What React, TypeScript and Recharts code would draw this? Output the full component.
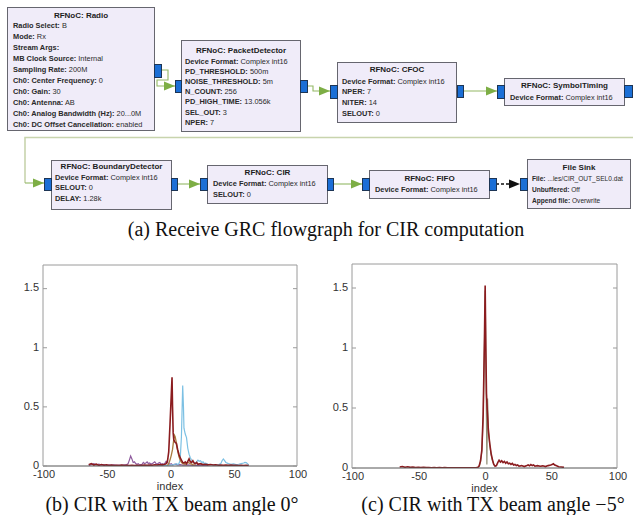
import React from 'react';
import { LineChart, Line, XAxis, YAxis } from 'recharts';

// ---------- flowgraph (top half) ----------
type Row = [string, string];

const radioRows: Row[] = [
  ['Radio Select:', 'B'],
  ['Mode:', 'Rx'],
  ['Stream Args:', ''],
  ['MB Clock Source:', 'Internal'],
  ['Sampling Rate:', '200M'],
  ['Ch0: Center Frequency:', '0'],
  ['Ch0: Gain:', '30'],
  ['Ch0: Antenna:', 'AB'],
  ['Ch0: Analog Bandwidth (Hz):', '20...0M'],
  ['Ch0: DC Offset Cancellation:', 'enabled'],
];
const detectorRows: Row[] = [
  ['Device Format:', 'Complex int16'],
  ['PD_THRESHOLD:', '500m'],
  ['NOISE_THRESHOLD:', '5m'],
  ['N_COUNT:', '256'],
  ['PD_HIGH_TIME:', '13.056k'],
  ['SEL_OUT:', '3'],
  ['NPER:', '7'],
];
const cfocRows: Row[] = [
  ['Device Format:', 'Complex int16'],
  ['NPER:', '7'],
  ['NITER:', '14'],
  ['SELOUT:', '0'],
];
const timingRows: Row[] = [['Device Format:', 'Complex int16']];
const boundaryRows: Row[] = [
  ['Device Format:', 'Complex int16'],
  ['SELOUT:', '0'],
  ['DELAY:', '1.28k'],
];
const cirRows: Row[] = [
  ['Device Format:', 'Complex int16'],
  ['SELOUT:', '0'],
];
const fifoRows: Row[] = [['Device Format:', 'Complex int16']];
const sinkRows: Row[] = [
  ['File:', '...les/CIR_OUT_SEL0.dat'],
  ['Unbuffered:', 'Off'],
  ['Append file:', 'Overwrite'],
];

const blocks = [
  { title: 'RFNoC: Radio', x: 7, y: 7, w: 147, h: 123, tx: 13, ty: 17.5, ry: 27.5, step: 11, fs: 7.4, rows: radioRows },
  { title: 'RFNoC: PacketDetector', x: 181, y: 40, w: 119, h: 91, tx: 185, ty: 52.5, ry: 63.5, step: 10.2, fs: 7.4, rows: detectorRows },
  { title: 'RFNoC: CFOC', x: 337, y: 62, w: 119, h: 60, tx: 342, ty: 71.5, ry: 83.5, step: 10.7, fs: 7.4, rows: cfocRows },
  { title: 'RFNoC: SymbolTiming', x: 504, y: 78, w: 120, h: 27, tx: 510, ty: 87.5, ry: 99.5, step: 11, fs: 7.4, rows: timingRows },
  { title: 'RFNoC: BoundaryDetector', x: 51, y: 160, w: 120, h: 49, tx: 55, ty: 168.5, ry: 179.5, step: 10.5, fs: 7.4, rows: boundaryRows },
  { title: 'RFNoC: CIR', x: 207, y: 165, w: 120, h: 38, tx: 213, ty: 174.5, ry: 185.5, step: 11, fs: 7.4, rows: cirRows },
  { title: 'RFNoC: FIFO', x: 369, y: 170, w: 120, h: 28, tx: 375, ty: 180.5, ry: 191.5, step: 11, fs: 7.4, rows: fifoRows },
  { title: 'File Sink', x: 527, y: 159, w: 103, h: 49, tx: 532, ty: 169.5, ry: 180.5, step: 11, fs: 6.6, rows: sinkRows },
];

const ports = [
  [154, 64, 7, 13], [175, 80, 6, 12], [300, 80, 7, 12], [330, 85, 7, 13],
  [457, 85, 6, 12], [497, 85, 7, 13], [624, 85, 8, 12],
  [44, 178, 7, 12], [171, 178, 6, 12], [200, 178, 7, 12], [327, 178, 6, 12],
  [362, 178, 7, 12], [489, 178, 7, 12], [520, 178, 7, 12],
];

const links = [
  [[161, 70], [168, 70], [168, 80], [157, 80], [157, 86], [175, 86]],
  [[307, 86], [313, 86], [313, 91], [330, 91]],
  [[463, 91], [497, 91]],
  [[25, 183], [44, 183]],
  [[177, 184], [200, 184]],
  [[333, 184], [362, 184]],
];

const arrowHead = (x: number, y: number, fill: string, key: string) => (
  <polygon key={key} points={`${x - 11},${y - 4.5} ${x},${y} ${x - 11},${y + 4.5}`} fill={fill} />
);

function Flowgraph() {
  return (
    <svg width={633} height={250} style={{ position: 'absolute', left: 0, top: 0 }}>
      {/* return path from SymbolTiming back to the second row */}
      <polyline points="633,137.5 25,137.5 25,183" fill="none" stroke="#c8d4ad" strokeWidth={1.6} />
      {links.map((pts, i) => {
        const end = pts[pts.length - 1];
        return (
          <g key={'l' + i}>
            <polyline points={pts.map((p) => p.join(',')).join(' ')} fill="none" stroke="#93b865" strokeWidth={1.1} />
            {arrowHead(end[0], end[1], '#7dae45', 'a' + i)}
          </g>
        );
      })}
      <line x1={496} y1={184} x2={510} y2={184} stroke="#111" strokeWidth={1.3} strokeDasharray="3 2" />
      {arrowHead(520, 184, '#111', 'sink')}
      {blocks.map((b) => (
        <g key={b.title}>
          <rect x={b.x + 0.5} y={b.y + 0.5} width={b.w} height={b.h} fill="#f0ecf9" stroke="#66666f" strokeWidth={1} />
          <text x={b.x + b.w / 2 + 0.5} y={b.ty} textAnchor="middle" fontFamily="Liberation Sans, Arial" fontSize={8} fontWeight="bold" fill="#1c1c1c">
            {b.title}
          </text>
          {b.rows.map((r, i) => (
            <text key={i} x={b.tx} y={b.ry + i * b.step} fontFamily="Liberation Sans, Arial" fontSize={b.fs} fill="#2a2a2a">
              <tspan fontWeight="bold">{r[0]}</tspan>
              <tspan> {r[1]}</tspan>
            </text>
          ))}
        </g>
      ))}
      {ports.map((p, i) => (
        <rect key={'p' + i} x={p[0] + 0.5} y={p[1] + 0.5} width={p[2]} height={p[3]} fill="#1b6fd6" stroke="#1d3555" strokeWidth={1} />
      ))}
    </svg>
  );
}

// ---------- CIR data ----------
const yTicks = [0, 0.5, 1, 1.5];
const xTicks = [-100, -50, 0, 50, 100];

// (b) TX beam angle 0 deg
const beam0Red: [number, number][] = [
  [-64, 0.01], [-62, 0.02], [-60, 0.008], [-58, 0.015], [-56, 0.005], [-54, 0.012], [-52, 0.006], [-50, 0.01],
  [-48, 0.004], [-46, 0.008], [-44, 0.003], [-42, 0.006], [-40, 0.004], [-38, 0.007], [-36, 0.003], [-34, 0.005],
  [-32, 0.004], [-30, 0.006], [-28, 0.003], [-26, 0.005], [-24, 0.004], [-22, 0.006], [-20, 0.008], [-18, 0.005],
  [-16, 0.009], [-14, 0.006], [-12, 0.01], [-10, 0.008], [-8, 0.012], [-6, 0.01], [-4, 0.015], [-3, 0.02],
  [-2, 0.04], [-1, 0.12], [0, 0.35], [1, 0.6], [1.6, 0.75], [2, 0.5], [2.5, 0.28], [3, 0.22], [4, 0.2],
  [5, 0.19], [6, 0.14], [7, 0.1], [8, 0.07], [9, 0.05], [10, 0.03], [11, 0.025], [12, 0.035], [13, 0.02],
  [14, 0.04], [15, 0.06], [16, 0.035], [17, 0.03], [18, 0.045], [19, 0.025], [20, 0.02], [21, 0.03], [22, 0.015],
  [24, 0.02], [26, 0.012], [28, 0.015], [30, 0.01], [32, 0.012], [34, 0.008], [36, 0.01], [38, 0.007], [40, 0.009],
  [42, 0.006], [44, 0.008], [46, 0.005], [48, 0.007], [50, 0.005], [52, 0.006], [54, 0.004], [56, 0.006],
  [58, 0.004], [60, 0.005], [62, 0.003],
];
const beam0Brown: [number, number][] = [
  [-2, 0.005], [-1, 0.02], [0, 0.05], [1, 0.09], [2, 0.14], [3, 0.23], [3.5, 0.26], [4, 0.25], [5, 0.2],
  [6, 0.13], [7, 0.08], [8, 0.05], [9, 0.03], [10, 0.02], [12, 0.015], [14, 0.03], [16, 0.02], [18, 0.012], [20, 0.008],
];
const beam0Cyan: [number, number][] = [
  [-10, 0.003], [-6, 0.006], [-3, 0.004], [0, 0.008], [2, 0.01], [4, 0.015], [5, 0.02], [6, 0.012], [7, 0.02],
  [8, 0.05], [9, 0.25], [10, 0.68], [10.6, 0.5], [11, 0.32], [12, 0.27], [13, 0.24], [14, 0.15], [15, 0.1],
  [16, 0.07], [17, 0.05], [18, 0.04], [19, 0.03], [20, 0.025], [21, 0.035], [22, 0.05], [23, 0.04], [24, 0.045],
  [25, 0.03], [26, 0.035], [27, 0.02], [28, 0.025], [30, 0.015], [32, 0.012], [34, 0.01], [36, 0.012], [38, 0.01],
  [40, 0.02], [41, 0.045], [42, 0.06], [43, 0.045], [44, 0.03], [46, 0.02], [48, 0.015], [50, 0.018], [52, 0.012],
  [54, 0.015], [56, 0.02], [58, 0.025], [59, 0.03], [60, 0.028], [61, 0.02], [62, 0.01],
];
const beam0Purple: [number, number][] = [
  [-64, 0.005], [-62, 0.012], [-60, 0.02], [-58, 0.01], [-56, 0.015], [-54, 0.008], [-52, 0.012], [-50, 0.006],
  [-48, 0.01], [-46, 0.007], [-44, 0.009], [-42, 0.005], [-40, 0.008], [-38, 0.006], [-36, 0.01], [-34, 0.012],
  [-33, 0.02], [-32, 0.05], [-31, 0.085], [-30, 0.06], [-29, 0.03], [-28, 0.035], [-27, 0.02], [-26, 0.015],
  [-25, 0.02], [-24, 0.01], [-22, 0.015], [-21, 0.03], [-20, 0.02], [-19, 0.025], [-18, 0.035], [-17, 0.02],
  [-16, 0.025], [-15, 0.015], [-14, 0.02], [-13, 0.028], [-12, 0.035], [-11, 0.02], [-10, 0.015], [-9, 0.025],
  [-8, 0.03], [-7, 0.015], [-6, 0.02], [-5, 0.012], [-4, 0.025], [-3, 0.04], [-2, 0.03], [-1, 0.02], [0, 0.015],
  [1, 0.02], [2, 0.01], [4, 0.015], [6, 0.01], [8, 0.012], [10, 0.008], [14, 0.01], [18, 0.006], [22, 0.008],
  [26, 0.005], [30, 0.006],
];

// (c) TX beam angle -5 deg
const beam5Red: [number, number][] = [
  [-64, 0.008], [-62, 0.012], [-60, 0.006], [-58, 0.01], [-56, 0.005], [-54, 0.008], [-52, 0.004], [-50, 0.006],
  [-48, 0.003], [-46, 0.005], [-44, 0.003], [-42, 0.004], [-40, 0.002], [-38, 0.003], [-36, 0.002], [-34, 0.003],
  [-32, 0.002], [-30, 0.003], [-28, 0.002], [-26, 0.002], [-24, 0.001], [-22, 0.002], [-20, 0.001], [-18, 0.002],
  [-16, 0.001], [-14, 0.002], [-12, 0.001], [-10, 0.002], [-8, 0.002], [-6, 0.003], [-5, 0.005], [-4, 0.02],
  [-3, 0.06], [-2, 0.15], [-1, 0.45], [0, 1.1], [0.5, 1.52], [1, 1.0], [1.5, 0.62], [2, 0.5], [2.5, 0.4],
  [3, 0.3], [4, 0.2], [5, 0.12], [6, 0.07], [7, 0.03], [8, 0.015], [9, 0.02], [10, 0.045], [11, 0.065],
  [12, 0.05], [13, 0.06], [14, 0.045], [15, 0.055], [16, 0.04], [17, 0.05], [18, 0.035], [19, 0.04], [20, 0.03],
  [21, 0.038], [22, 0.025], [23, 0.03], [24, 0.02], [25, 0.025], [26, 0.015], [28, 0.02], [30, 0.012], [32, 0.02],
  [33, 0.025], [34, 0.018], [35, 0.028], [36, 0.02], [37, 0.025], [38, 0.015], [40, 0.02], [42, 0.015],
  [44, 0.018], [46, 0.012], [48, 0.02], [50, 0.025], [51, 0.03], [52, 0.035], [53, 0.025], [54, 0.02],
  [56, 0.01], [58, 0.008], [60, 0.005],
];
const beam5Gray: [number, number][] = [
  [-4, 0.01], [-3, 0.05], [-2, 0.14], [-1, 0.42], [0, 1.05], [0.5, 1.48], [1, 0.95], [1.3, 0.6], [1.8, 0.03],
  [2.3, 0.58], [3, 0.32], [4, 0.19], [5, 0.11], [6, 0.06], [7, 0.03], [8, 0.02],
];

const toPoints = (arr: [number, number][]) => arr.map(([x, y]) => ({ x, y }));

// ---------- axis ticks (inside ticks, matlab-like frame) ----------
const frameColor = '#9a9a9a';
const labelFont = 'Liberation Sans, Arial, sans-serif';

const LeftTick = (props: any) => {
  const { x, y, payload } = props;
  return (
    <g>
      <line x1={x + 4} x2={x + 8} y1={y} y2={y} stroke={frameColor} />
      <text x={x} y={y - 1} dy="0.35em" textAnchor="end" fontSize={11} fontFamily={labelFont} fill="#333">
        {payload.value}
      </text>
    </g>
  );
};
const RightTick = (props: any) => {
  const { x, y } = props;
  return <line x1={x - 4} x2={x} y1={y} y2={y} stroke={frameColor} />;
};
const TopTick = (props: any) => {
  const { x, y } = props;
  return <line x1={x} x2={x} y1={y} y2={y + 4} stroke={frameColor} />;
};
const BottomTick = (props: any) => {
  const { x, y, payload } = props;
  return (
    <text x={x + 1} y={y} dy="0.71em" textAnchor="middle" fontSize={11} fontFamily={labelFont} fill="#333">
      {payload.value}
    </text>
  );
};

type Series = { data: [number, number][]; color: string; width: number };

function CirChart({ width, height, margin, series }: { width: number; height: number; margin: any; series: Series[] }) {
  return (
    <LineChart width={width} height={height} margin={margin}>
      <XAxis
        dataKey="x"
        type="number"
        domain={[-100, 100]}
        ticks={xTicks}
        allowDataOverflow
        stroke="#555"
        tickLine={false}
        tickSize={0}
        tickMargin={4}
        height={24}
        tick={<BottomTick />}
        label={{ value: 'index', position: 'insideBottom', offset: 0, fontSize: 11, fontFamily: labelFont, fill: '#333' }}
      />
      <XAxis
        xAxisId="top"
        orientation="top"
        type="number"
        domain={[-100, 100]}
        ticks={xTicks}
        allowDataOverflow
        stroke={frameColor}
        tickLine={false}
        tickSize={0}
        tickMargin={0}
        height={1}
        tick={<TopTick />}
      />
      <YAxis
        type="number"
        domain={[0, 1.7]}
        ticks={yTicks}
        allowDataOverflow
        stroke={frameColor}
        tickLine={false}
        tickSize={0}
        tickMargin={4}
        width={30}
        tick={<LeftTick />}
      />
      <YAxis
        yAxisId="right"
        orientation="right"
        type="number"
        domain={[0, 1.7]}
        ticks={yTicks}
        allowDataOverflow
        stroke={frameColor}
        tickLine={false}
        tickSize={0}
        tickMargin={0}
        width={1}
        tick={<RightTick />}
      />
      {series.map((s, i) => (
        <Line
          key={i}
          data={toPoints(s.data)}
          dataKey="y"
          type="linear"
          stroke={s.color}
          strokeWidth={s.width}
          dot={false}
          isAnimationActive={false}
        />
      ))}
    </LineChart>
  );
}

const captionStyle: React.CSSProperties = {
  position: 'absolute',
  fontFamily: '"Liberation Serif", "Times New Roman", serif',
  fontSize: 20,
  color: '#111',
  whiteSpace: 'nowrap',
  transform: 'translateX(-50%)',
  lineHeight: '20px',
};

export default function App() {
  return (
    <div style={{ position: 'absolute', left: 0, top: 0, width: 633, height: 515, background: '#fff', overflow: 'hidden' }}>
      <Flowgraph />
      <div style={{ ...captionStyle, left: 326, top: 219 }}>(a) Receive GRC flowgraph for CIR computation</div>

      <div style={{ position: 'absolute', left: 0, top: 250 }}>
        <CirChart
          width={320}
          height={245}
          margin={{ top: 14, right: 22, bottom: 5, left: 13 }}
          series={[
            { data: beam0Purple, color: '#8f5c9e', width: 1.2 },
            { data: beam0Cyan, color: '#7cc0e3', width: 1.2 },
            { data: beam0Brown, color: '#a97a3e', width: 1.3 },
            { data: beam0Red, color: '#8b1c1f', width: 1.6 },
          ]}
        />
      </div>
      <div style={{ position: 'absolute', left: 320, top: 250 }}>
        <CirChart
          width={313}
          height={247}
          margin={{ top: 13, right: 15, bottom: 5, left: 2 }}
          series={[
            { data: beam5Gray, color: '#8f8c72', width: 1.2 },
            { data: beam5Red, color: '#8b1c1f', width: 1.6 },
          ]}
        />
      </div>
      <div style={{ ...captionStyle, left: 172, top: 494 }}>(b) CIR with TX beam angle 0°</div>
      <div style={{ ...captionStyle, left: 493, top: 494 }}>(c) CIR with TX beam angle −5°</div>
    </div>
  );
}
